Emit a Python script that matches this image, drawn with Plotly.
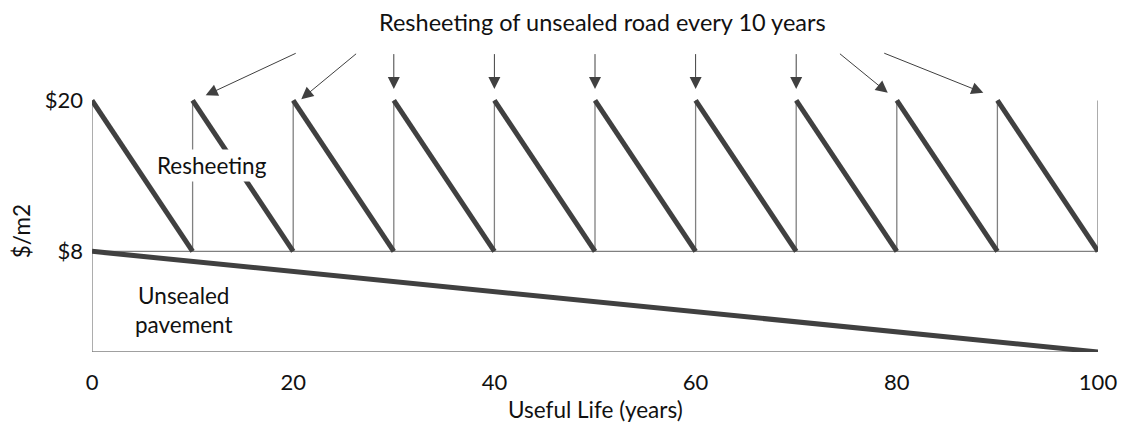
import plotly.graph_objects as go

# ---- data ----
cycle_starts = [0, 10, 20, 30, 40, 50, 60, 70, 80, 90]
cycle_ends = [10, 20, 30, 40, 50, 60, 70, 80, 90, 100]
resheet_high = 20
resheet_low = 8
pavement_years = [0, 100]
pavement_values = [8, 0]
x_ticks = [0, 20, 40, 60, 80, 100]
y_ticks = [8, 20]
y_tick_labels = ["$8", "$20"]

FONT = "Lato"
DARK = "#404040"
THIN = "#808080"
TXT = "#111111"

fig = go.Figure()

# thin reset verticals (including axis at 0 and line at 100)
vx, vy = [], []
for s in cycle_starts + [cycle_ends[-1]]:
    vx += [s, s, None]
    vy += [0 if s == 0 else resheet_low, resheet_high, None]
fig.add_trace(go.Scatter(x=vx, y=vy, mode="lines", line=dict(color=THIN, width=1.3),
                         hoverinfo="skip", showlegend=False, cliponaxis=False))
# horizontal $8 line
fig.add_trace(go.Scatter(x=[cycle_starts[0], cycle_ends[-1]], y=[resheet_low, resheet_low], mode="lines",
                         line=dict(color=THIN, width=1.3), hoverinfo="skip", showlegend=False, cliponaxis=False))
# x axis baseline
fig.add_trace(go.Scatter(x=[cycle_starts[0], cycle_ends[-1]], y=[0, 0], mode="lines",
                         line=dict(color=THIN, width=1.3), hoverinfo="skip", showlegend=False, cliponaxis=False))

# resheeting sawtooth
sx, sy = [], []
for s, e in zip(cycle_starts, cycle_ends):
    sx += [s, e, None]
    sy += [resheet_high, resheet_low, None]
fig.add_trace(go.Scatter(x=sx, y=sy, mode="lines", line=dict(color=DARK, width=5),
                         hoverinfo="skip", showlegend=False, cliponaxis=False))
# unsealed pavement
fig.add_trace(go.Scatter(x=pavement_years, y=pavement_values, mode="lines", line=dict(color=DARK, width=5),
                         hoverinfo="skip", showlegend=False, cliponaxis=False))

# arrows (tip, tail) in data coordinates
arrows = [
    ((11.3, 20.4), (20.4, 23.8)),
    ((20.8, 20.1), (26.4, 23.8)),
    ((30, 20.9), (30, 23.8)),
    ((40, 20.9), (40, 23.8)),
    ((50, 20.9), (50, 23.8)),
    ((60, 20.9), (60, 23.8)),
    ((70, 20.9), (70, 23.8)),
    ((79.1, 20.6), (74.2, 23.8)),
    ((88.6, 20.6), (78.6, 23.8)),
]
for (tx, ty), (ax_, ay_) in arrows:
    fig.add_annotation(x=tx, y=ty, ax=ax_, ay=ay_, xref="x", yref="y", axref="x", ayref="y",
                       text="", showarrow=True, arrowhead=2, arrowsize=2.4, arrowwidth=1.0,
                       arrowcolor=DARK, standoff=0, startstandoff=0)

fig.add_annotation(x=50.7, y=26.2, xref="x", yref="y", text="Resheeting of unsealed road every 10 years",
                   showarrow=False, font=dict(family=FONT, size=23.5, color=TXT))
fig.add_annotation(x=11.9, y=14.85, xref="x", yref="y", text="Resheeting", bgcolor="white", borderpad=2,
                   showarrow=False, font=dict(family=FONT, size=22.5, color=TXT))
fig.add_annotation(x=9.1, y=3.35, xref="x", yref="y", text="Unsealed<br>pavement",
                   showarrow=False, font=dict(family=FONT, size=22.5, color=TXT))
fig.add_annotation(x=-0.0706, y=9.6, xref="paper", yref="y", xanchor="center", yanchor="middle",
                   text="$/m2", textangle=-90,
                   showarrow=False, font=dict(family=FONT, size=22.5, color=TXT))
fig.add_annotation(x=0.5, y=-0.162, xref="paper", yref="paper", xanchor="center", yanchor="middle",
                   text="Useful Life (years)",
                   showarrow=False, font=dict(family=FONT, size=22.5, color=TXT))

fig.update_layout(
    width=1123, height=424,
    margin=dict(l=92, r=25, t=0, b=72, autoexpand=False),
    paper_bgcolor="white", plot_bgcolor="white",
    font=dict(family=FONT, size=22, color=TXT),
    xaxis=dict(range=[0, 100], tickvals=x_ticks, showgrid=False, zeroline=False, showline=False,
               ticks="", ticklabelstandoff=15, ticklabeloverflow="allow", automargin=False),
    yaxis=dict(range=[0, 352 / 12.58], tickvals=y_ticks, ticktext=y_tick_labels, showgrid=False,
               zeroline=False, showline=False, ticks="", ticklabelstandoff=8, automargin=False),
)

fig.write_html("out.html", config={"displayModeBar": False},
               post_script="document.body.style.margin='0';document.body.style.overflow='hidden';")
